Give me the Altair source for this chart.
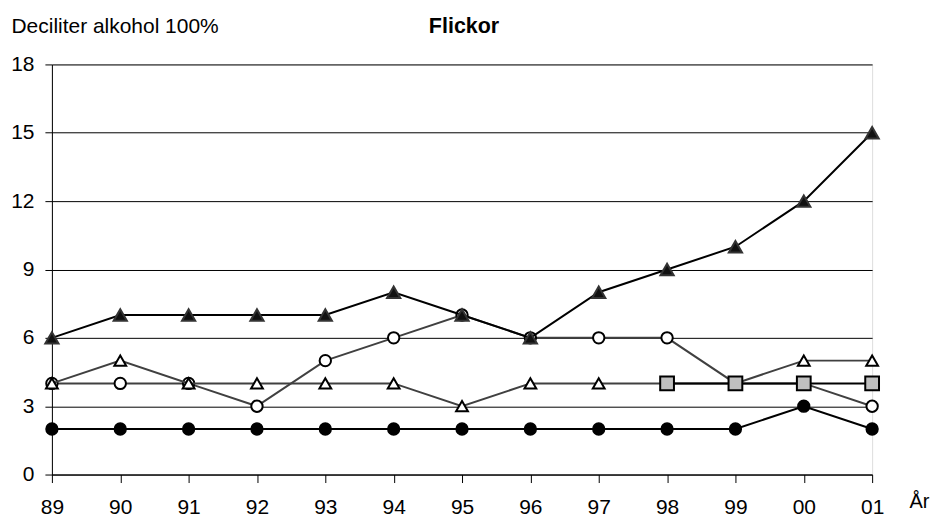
import altair as alt
import pandas as pd

years = ["89", "90", "91", "92", "93", "94", "95", "96", "97", "98", "99", "00", "01"]
filled_triangles = [6, 7, 7, 7, 7, 8, 7, 6, 8, 9, 10, 12, 15]
open_circles = [4, 4, 4, 3, 5, 6, 7, 6, 6, 6, 4, 4, 3]
open_triangles = [4, 5, 4, 4, 4, 4, 3, 4, 4, 4, 4, 5, 5]
squares = [None, None, None, None, None, None, None, None, None, 4, 4, 4, 4]
filled_circles = [2, 2, 2, 2, 2, 2, 2, 2, 2, 2, 2, 3, 2]
y_ticks = [0, 3, 6, 9, 12, 15, 18]
chart_title = ["Flickor"]

FONT = "Liberation Sans"


def frame(vals):
    return pd.DataFrame({"year": years, "value": vals}).dropna()


x_enc = alt.X(
    "year:O",
    sort=years,
    scale=alt.Scale(type="point", padding=0),
    axis=alt.Axis(
        labelAngle=0,
        tickSize=8,
        tickColor="black",
        domainColor="black",
        labelPadding=14,
        labelFontSize=21,
        labelColor="black",
        labelFont=FONT,
        grid=False,
        title="År",
        titleX=859,
        titleY=33,
        titleAlign="left",
        titleBaseline="alphabetic",
        titleFontSize=20,
        titleFontWeight="normal",
        titleColor="black",
        titleFont=FONT,
    ),
)

y_enc = alt.Y(
    "value:Q",
    scale=alt.Scale(domain=[0, 18], nice=False),
    axis=alt.Axis(
        values=y_ticks,
        tickSize=7,
        tickColor="black",
        domainColor="black",
        grid=True,
        gridColor="black",
        gridWidth=1,
        labelFontSize=21,
        labelPadding=11,
        labelColor="black",
        labelFont=FONT,
        title="Deciliter alkohol 100%",
        titleAngle=0,
        titleAlign="left",
        titleBaseline="alphabetic",
        titleX=-41,
        titleY=-32,
        titleFontSize=21,
        titleFontWeight="normal",
        titleColor="black",
        titleFont=FONT,
    ),
)


def series(vals, line_color, shape, fill, stroke, size, sw):
    base = alt.Chart(frame(vals)).encode(x=x_enc, y=y_enc)
    line = base.mark_line(color=line_color, strokeWidth=2)
    pts = base.mark_point(
        shape=shape, filled=True, fill=fill, stroke=stroke,
        strokeWidth=sw, size=size, opacity=1
    )
    return [line, pts]


layers = []
layers += series(filled_circles, "black", "circle", "black", "black", 140, 1.5)
layers += series(open_circles, "#404040", "circle", "white", "black", 130, 2)
layers += series(open_triangles, "#404040", "triangle-up", "white", "black", 140, 2)
layers += series(squares, "black", "square", "#c0c0c0", "black", 190, 2)
layers += series(filled_triangles, "black", "triangle-up", "#111111", "#333333", 175, 2)

title_layer = alt.Chart(pd.DataFrame({"t": chart_title})).mark_text(
    font=FONT, fontSize=21.5, fontWeight="bold", color="black",
    align="center", baseline="alphabetic"
).encode(text="t:N", x=alt.value(413), y=alt.value(-32))

chart = alt.layer(*layers, title_layer).properties(
    width=822,
    height=411,
    autosize=alt.AutoSizeParams(type="none"),
    padding={"left": 44, "top": 56, "right": 60, "bottom": 46},
).configure_view(stroke="black", strokeWidth=1).configure(background="white")

chart.save("out.html", embed_options={"renderer": "svg", "actions": False})
